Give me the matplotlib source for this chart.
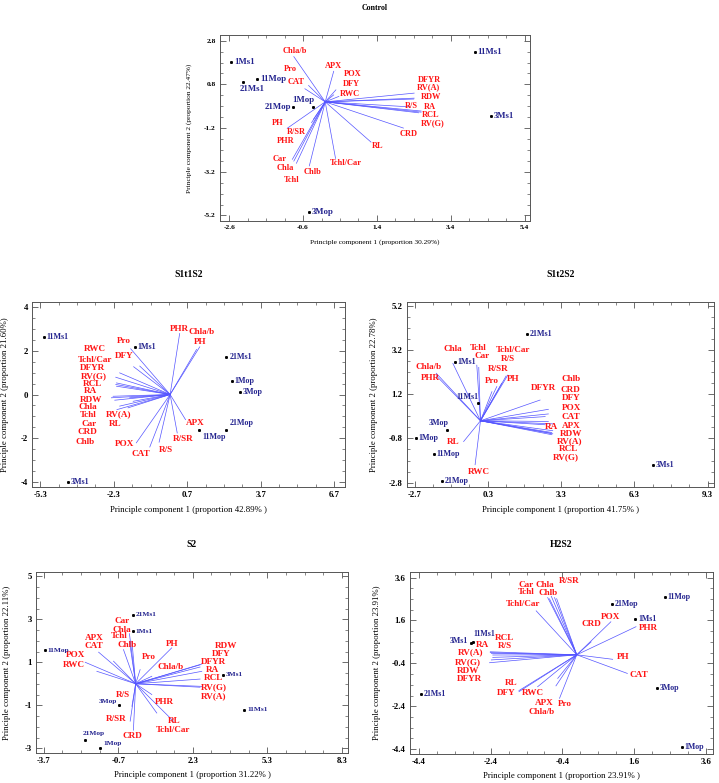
import matplotlib
matplotlib.use("Agg")
import matplotlib.pyplot as plt
from matplotlib.ticker import AutoMinorLocator, FixedLocator, FixedFormatter

plt.rcParams["font.family"] = ["Liberation Serif", "DejaVu Serif"]
plt.rcParams["font.weight"] = "bold"

variables = ["Chla", "Chlb", "Car", "Tchl", "Chla/b", "Tchl/Car", "PH", "PHR",
             "Pro", "APX", "POX", "CAT", "RWC", "DFY", "DFYR", "RDW", "RL",
             "RA", "RCL", "RV(A)", "RV(G)", "R/S", "R/SR", "CRD"]
genotypes = ["1Ms1", "3Ms1", "11Ms1", "21Ms1", "1Mop", "3Mop", "11Mop", "21Mop"]

# ---- Control ----
ctrl_load_x = [-0.85, -0.43, -0.89, -0.78, -0.85, 0.28, -1.03, -0.32, -0.45, 0.23, 0.29, -0.55,
               0.37, 0.23, 2.41, 2.40, 1.24, 2.60, 2.60, 2.41, 2.53, 2.30, -0.37, 2.12]
ctrl_load_y = [-2.71, -2.93, -2.63, -2.81, 2.07, -2.59, -1.21, -0.80, 0.75, 1.40, 0.55, 0.60,
               0.25, 0.32, 0.40, 0.13, -1.84, -0.42, -0.47, 0.17, -0.50, -0.23, -0.95, -1.20]
ctrl_lab_x = [-1.09, -0.35, -1.24, -0.92, -0.83, 0.55, -1.29, -1.06, -0.94, 0.23, 0.74, -0.78,
              0.67, 0.72, 2.81, 2.86, 1.43, 2.83, 2.86, 2.81, 2.90, 2.32, -0.78, 2.26]
ctrl_lab_y = [-3.01, -3.19, -2.62, -3.56, 2.31, -2.78, -0.98, -1.77, 1.52, 1.62, 1.26, 0.89,
              0.35, 0.81, 1.02, 0.22, -2.04, -0.24, -0.62, 0.65, -0.99, -0.20, -1.39, -1.47]
ctrl_score_x = [-2.54, 4.50, 4.05, -2.23, -0.34, -0.44, -1.84, -0.86]
ctrl_score_y = [1.84, -0.65, 2.26, 0.89, -0.23, -5.05, 1.04, -0.23]

# ---- S1t1S2 ----
s11_load_x = [-2.33, -1.65, -2.06, -2.26, 1.08, -2.06, 1.21, 0.39, -1.61, 0.63, -1.38, -0.83,
              -1.24, -1.49, -2.22, -2.40, -1.51, -2.19, -2.22, -1.72, -2.19, -0.45, 0.29, -2.17]
s11_load_y = [-0.08, -0.15, -0.53, -0.26, 2.06, 0.99, 2.18, 2.79, 2.09, -1.15, -2.21, -2.40,
              1.30, 1.27, 0.79, -0.15, -0.31, 0.38, 0.46, -0.61, 0.53, -2.18, -1.76, -0.69]
s11_lab_x = [-3.35, -3.49, -3.31, -3.35, 1.28, -3.08, 1.21, 0.37, -1.87, 1.01, -1.85, -1.20,
             -3.08, -1.89, -3.17, -3.24, -2.26, -3.26, -3.15, -2.10, -3.12, -0.15, 0.53, -3.38]
s11_lab_y = [-0.56, -2.18, -1.33, -0.92, 2.85, 1.60, 2.41, 2.98, 2.44, -1.31, -2.26, -2.70,
             2.06, 1.76, 1.22, -0.23, -1.34, 0.15, 0.47, -0.90, 0.84, -2.52, -2.02, -1.73]
s11_score_x = [-1.44, -4.17, -5.15, 2.30, 2.53, 2.85, 1.19, 2.30]
s11_score_y = [2.17, -4.00, 2.63, 1.73, 0.61, 0.12, -1.63, -1.60]

# ---- S1t2S2 ----
s12_load_x = [-1.13, 2.78, -0.07, -0.15, -1.81, 1.12, 0.87, -1.81, 0.47, 2.96, 2.78, 2.99,
              -0.22, 2.65, 2.44, 2.92, -0.69, 2.65, 2.88, 2.96, 2.92, 1.05, 0.67, 2.78]
s12_load_y = [2.60, 0.52, 2.42, 2.52, 2.15, 2.07, 1.70, 2.04, 1.32, -0.45, -0.03, -0.14,
              -1.99, 0.19, 0.94, -0.53, -0.94, -0.18, -0.56, -0.59, -0.63, 2.03, 1.55, 0.31]
s12_lab_x = [-1.12, 3.70, 0.06, -0.08, -2.13, 1.32, 1.35, -2.06, 0.47, 3.70, 3.71, 3.71,
             -0.08, 3.70, 2.58, 3.70, -1.13, 2.89, 3.60, 3.67, 3.51, 1.12, 0.71, 3.70]
s12_lab_y = [3.27, 1.88, 2.92, 3.28, 2.42, 3.20, 1.88, 1.92, 1.82, -0.23, 0.57, 0.19,
             -2.33, 1.05, 1.50, -0.59, -0.97, -0.26, -1.28, -0.94, -1.66, 2.78, 2.33, 1.40]
s12_score_x = [-1.05, 7.05, -0.12, 1.90, -2.66, -1.35, -1.92, -1.58]
s12_score_y = [2.66, -2.02, 0.79, 3.95, -0.78, -0.41, -1.49, -2.74]

# ---- S2 ----
s2_load_x = [-0.15, -0.49, -0.25, -0.25, 0.65, 0.85, 1.45, 0.65, 0.18, -1.49, -2.03, -0.89,
             -1.56, 2.59, 2.59, 2.66, 1.52, 2.66, 2.59, 2.59, 2.66, -0.15, -0.22, -0.09]
s2_load_y = [1.98, 1.59, 2.33, 1.98, 0.35, -1.36, 1.67, -0.50, 0.66, 1.47, 1.00, 1.05,
             0.58, 0.88, 0.78, 0.92, -1.74, 0.58, 0.22, -0.16, -0.12, -1.05, -1.74, -2.16]
s2_lab_x = [-0.55, -0.33, -0.55, -0.65, 1.39, 1.52, 1.45, 1.16, 0.54, -1.67, -2.43, -1.69,
            -2.47, 3.46, 3.13, 3.62, 1.55, 3.09, 3.13, 3.13, 3.13, -0.53, -0.78, -0.14]
s2_lab_y = [2.52, 1.79, 2.91, 2.21, 0.78, -2.13, 1.85, -0.86, 1.23, 2.13, 1.33, 1.74,
            0.89, 1.39, 1.02, 1.78, -1.74, 0.66, 0.27, -0.58, -0.16, -0.50, -1.62, -2.44]
s2_score_x = [-0.11, 3.50, 4.37, -0.11, -1.42, -0.65, -3.66, -2.03]
s2_score_y = [2.44, 0.43, -1.20, 3.22, -3.00, -0.97, 1.56, -2.60]

# ---- H2S2 ----
h2_load_x = [-0.71, -0.62, -0.81, -0.76, -0.53, -1.13, 1.00, 1.65, -0.48, -0.58, 0.95, 1.41,
             -1.09, -1.61, -2.34, -2.38, -1.61, -2.38, -2.41, -2.34, -2.43, -2.41, -0.56, 0.40]
h2_load_y = [2.73, 2.67, 2.67, 2.61, -1.10, 2.05, -0.21, 1.31, -2.03, -1.45, 1.54, -0.87,
             -1.49, -1.72, -0.12, -0.24, -1.67, 0.07, 0.14, -0.01, -0.37, 0.10, 2.62, 0.60]
h2_lab_x = [-0.90, -0.81, -1.41, -1.41, -0.99, -1.50, 1.28, 1.99, -0.34, -0.90, 0.95, 1.72,
            -1.22, -1.96, -3.00, -3.03, -1.83, -2.63, -2.01, -2.96, -3.03, -2.01, -0.22, 0.40]
h2_lab_y = [3.27, 2.89, 3.27, 2.93, -2.69, 2.39, -0.09, 1.23, -2.29, -2.23, 1.74, -0.94,
            -1.80, -1.80, -1.13, -0.74, -1.30, 0.45, 0.79, 0.11, -0.35, 0.42, 3.43, 1.43]
h2_score_x = [1.63, -2.94, -2.89, -4.33, 2.92, 2.23, 2.45, 0.97]
h2_score_y = [1.65, 0.53, 0.59, -1.83, -4.32, -1.56, 2.70, 2.36]

RED = "#ff1414"
LINE = "#5555ff"
NAVY = "#24248f"

# offsets (points) and alignment for the genotype labels
PLACE = {
    "r": (2, 0, "left", "center"),
    "l": (-2, 0, "right", "center"),
    "b": (-2, -2, "left", "top"),
    "al": (1, 2, "right", "bottom"),
    "ar": (2, 2, "left", "bottom"),
    "br": (2, -2, "left", "top"),
    "a": (-2, 3, "left", "bottom"),
    "la": (-2, 2, "right", "center"),
    "au": (0, 3, "left", "bottom"),
}


def biplot(rect, title, lx, ly, tx, ty, sx, sy, place, xticks, yticks, xlim, ylim,
           xlabel, ylabel, ylab_off, fs, fs_var, fs_pt, fs_title):
    ax = fig.add_axes(rect)
    for v, x, y, a, b in zip(variables, lx, ly, tx, ty):
        ax.plot([0, x], [0, y], color=LINE, lw=0.5)
        ax.text(a, b, v, color=RED, fontsize=fs_var, ha="center", va="center")
    for g, x, y in zip(genotypes, sx, sy):
        ax.plot(x, y, "s", color="black", ms=1.1)
        dx, dy, ha, va = PLACE[place.get(g, "r")]
        ax.annotate(g, (x, y), xytext=(dx, dy), textcoords="offset points",
                    ha=ha, va=va, color=NAVY, fontsize=fs_pt)
    ax.set_xlim(xlim)
    ax.set_ylim(ylim)
    ax.xaxis.set_major_locator(FixedLocator(xticks))
    ax.xaxis.set_major_formatter(FixedFormatter(["%g" % t for t in xticks]))
    ax.yaxis.set_major_locator(FixedLocator(yticks))
    ax.yaxis.set_major_formatter(FixedFormatter(["%g" % t for t in yticks]))
    ax.xaxis.set_minor_locator(AutoMinorLocator(4))
    ax.yaxis.set_minor_locator(AutoMinorLocator(4))
    ax.tick_params(which="both", direction="in", top=True, right=True,
                   labelsize=fs, pad=3, color="#555555")
    ax.tick_params(which="major", length=4, width=0.6)
    ax.tick_params(which="minor", length=2, width=0.5)
    for s in ax.spines.values():
        s.set_color("#555555")
        s.set_linewidth(0.7)
    ax.set_title(title, fontsize=fs_title, fontweight="bold", pad=18)
    ax.set_xlabel(xlabel, fontsize=fs)
    ax.set_ylabel(ylabel, fontsize=fs)
    ax.xaxis.set_label_coords(0.5, -0.1)
    ax.yaxis.set_label_coords(ylab_off, 0.5)
    return ax


fig = plt.figure(figsize=(7.19, 7.83), dpi=100)

biplot([0.306, 0.7178, 0.4312, 0.2375], "Control",
       ctrl_load_x, ctrl_load_y, ctrl_lab_x, ctrl_lab_y, ctrl_score_x, ctrl_score_y,
       {"21Ms1": "b", "1Mop": "al", "21Mop": "l"},
       [-2.6, -0.6, 1.4, 3.4, 5.4], [-5.2, -3.2, -1.2, 0.8, 2.8],
       (-2.85, 5.55), (-5.45, 3.06),
       "Principle component 1 (proportion 30.29%)",
       "Principle component 2 (proportion 22.47%)", -0.09, 5.3, 6.0, 6.3, 5.7)

biplot([0.0445, 0.378, 0.4353, 0.2363], "S1t1S2",
       s11_load_x, s11_load_y, s11_lab_x, s11_lab_y, s11_score_x, s11_score_y,
       {"11Mop": "br", "21Mop": "ar"},
       [-5.3, -2.3, 0.7, 3.7, 6.7], [-4, -2, 0, 2, 4],
       (-5.64, 7.14), (-4.23, 4.23),
       "Principle component 1 (proportion 42.89% )",
       "Principle component 2 (proportion 21.60%)", -0.075, 6.3, 6.6, 5.8, 7.0)

biplot([0.566, 0.378, 0.427, 0.2363], "S1t2S2",
       s12_load_x, s12_load_y, s12_lab_x, s12_lab_y, s12_score_x, s12_score_y,
       {"11Ms1": "al", "3Mop": "al"},
       [-2.7, 0.3, 3.3, 6.3, 9.3], [-2.8, -0.8, 1.2, 3.2, 5.2],
       (-3.01, 9.56), (-3.0, 5.38),
       "Principle component 1 (proportion 41.75% )",
       "Principle component 2 (proportion 22.78%)", -0.095, 6.3, 6.6, 5.8, 7.0)

biplot([0.05, 0.0383, 0.434, 0.2312], "S2",
       s2_load_x, s2_load_y, s2_lab_x, s2_lab_y, s2_score_x, s2_score_y,
       {"1Mop": "ar", "3Mop": "la", "21Mop": "a"},
       [-3.7, -0.7, 2.3, 5.3, 8.3], [-3, -1, 1, 3, 5],
       (-4.01, 8.54), (-3.22, 5.2),
       "Principle component 1 (proportion 31.22% )",
       "Principle component 2 (proportion 22.11%)", -0.08, 6.3, 6.6, 5.3, 7.0)

biplot([0.570, 0.037, 0.4214, 0.2324], "H2S2",
       h2_load_x, h2_load_y, h2_lab_x, h2_lab_y, h2_score_x, h2_score_y,
       {"3Ms1": "la", "11Ms1": "au"},
       [-4.4, -2.4, -0.4, 1.6, 3.6], [-4.4, -2.4, -0.4, 1.6, 3.6],
       (-4.65, 3.79), (-4.63, 3.86),
       "Principle component 1 (proportion 23.91% )",
       "Principle component 2 (proportion 23.91%)", -0.095, 6.3, 6.6, 5.7, 7.0)

fig.savefig("out.png", dpi=100)
